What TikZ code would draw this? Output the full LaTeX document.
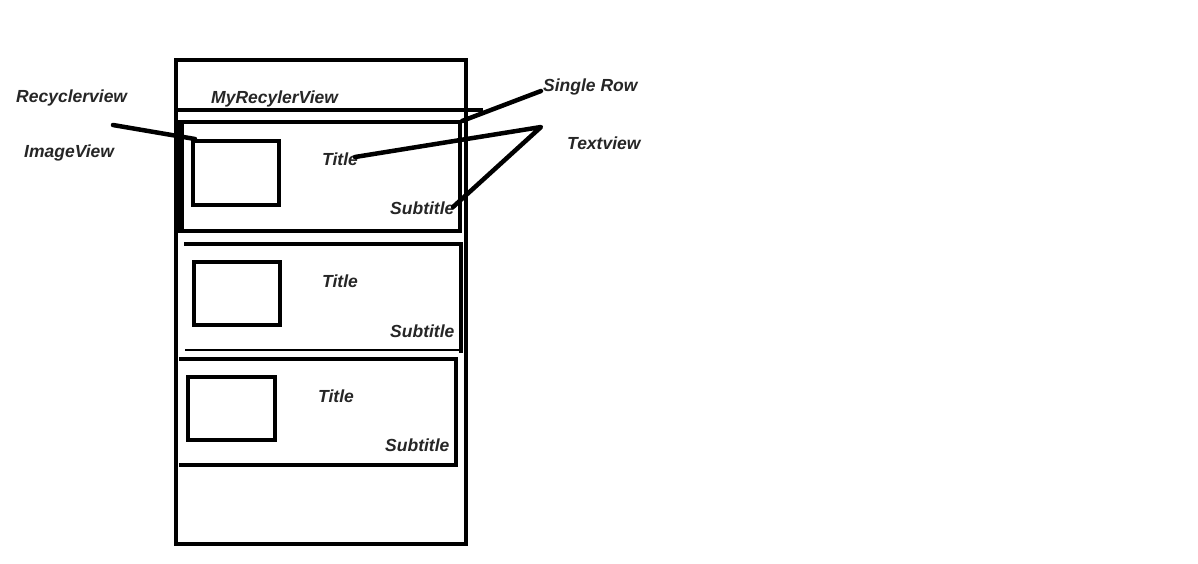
\documentclass[tikz,border=0pt]{standalone}
\usepackage{fontspec}
\setmainfont{Liberation Sans}
\begin{document}
\begin{tikzpicture}[x=1pt,y=-1pt,
  lbl/.style={anchor=base west,inner sep=0pt,text=black!85,font=\fontsize{17.5}{20}\selectfont\bfseries\itshape},
  thick4/.style={line width=4.5pt,line cap=rect},
  thin2/.style={line width=2pt},
  ptr/.style={line width=4.5pt,line cap=round,line join=round}]
\useasboundingbox[fill=white] (0,0) rectangle (1198,563);
% outer frame
\draw[thick4] (176,60) rectangle (466,544);
% header line
\draw[thick4] (178,110) -- (481,110);
% row 1
\draw[thick4] (182,122) rectangle (460,231);
\draw[line width=6pt] (181,120) -- (181,233);
\draw[thick4] (193,141) rectangle (279,205);
% row 2
\draw[thick4] (186,244) -- (461,244) -- (461,351);
\draw[thin2] (185,350) -- (460,350);
\draw[thick4] (194,262) rectangle (280,325);
% row 3
\draw[thick4] (181,359) -- (456,359) -- (456,465) -- (181,465);
\draw[thick4] (188,377) rectangle (275,440);
% labels
\node[lbl] (rv) at (16,102) {Recyclerview};
\node[lbl] (iv) at (24,157) {ImageView};
\node[lbl] (mrv) at (211,103) {MyRecylerView};
\node[lbl] (sr) at (543,91) {Single Row};
\node[lbl] (tv) at (567,149) {Textview};
\node[lbl] (t1) at (322,165) {Title};
\node[lbl] (s1) at (390,214) {Subtitle};
\node[lbl] (t2) at (322,287) {Title};
\node[lbl] (s2) at (390,337) {Subtitle};
\node[lbl] (t3) at (318,402) {Title};
\node[lbl] (s3) at (385,451) {Subtitle};
% pointer lines
\coordinate (ivs) at (113,125);
\coordinate (ive) at (195,139);
\coordinate (srs) at (462,121);
\coordinate (sre) at (541,91);
\coordinate (tvv) at (541,127);
\coordinate (t1e) at (355,157);
\coordinate (s1e) at (453,207);
\draw[ptr] (ivs) -- (ive);
\draw[ptr] (srs) -- (sre);
\draw[ptr] (t1e) -- (tvv) -- (s1e);
\end{tikzpicture}
\end{document}
